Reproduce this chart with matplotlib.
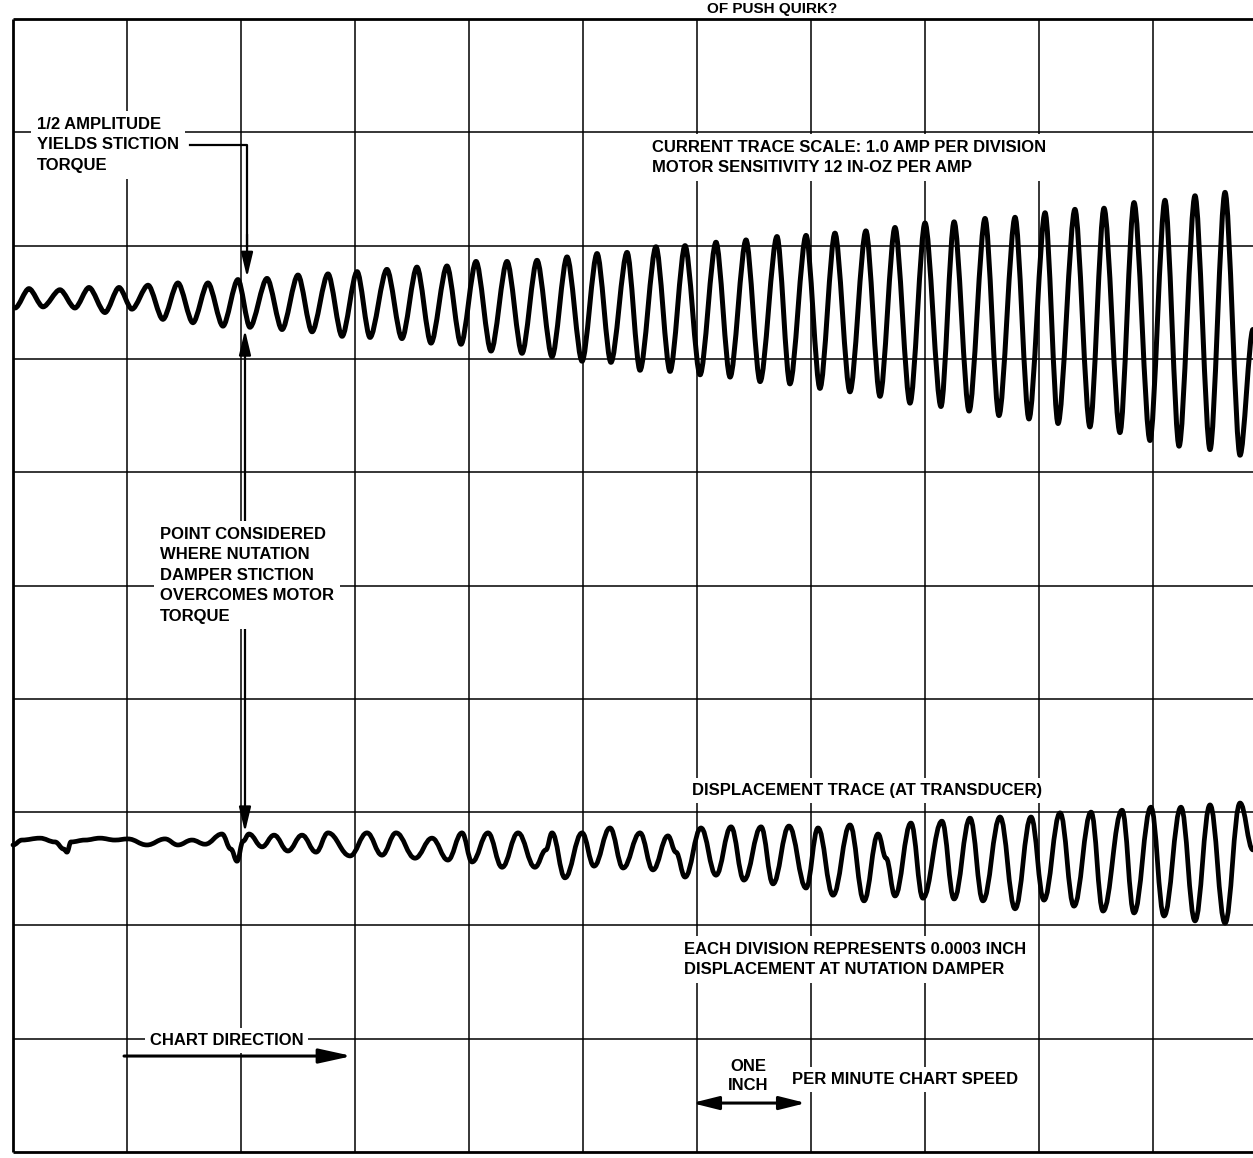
import matplotlib
matplotlib.use("Agg")
import matplotlib.pyplot as plt
from matplotlib.path import Path
from matplotlib.patches import PathPatch

# chart units: one division = one inch of paper = one minute of time
SEC_PER_DIV = 60.0
AMP_PER_DIV = 1.0      # current trace scale
DISP_PER_DIV = 3.0     # displacement in 1e-4 inch (0.0003 in per division)

# current trace, peaks and troughs (s, amp)
current_t = [1.1, 8.4, 15.8, 24.7, 32.6, 40.0, 48.4, 55.8, 62.6, 71.1,
             78.9, 86.8, 94.7, 102.6, 110.5, 118.4, 124.7, 133.7, 141.6, 150.0,
             157.4, 165.8, 173.2, 181.1, 187.9, 196.8, 204.7, 212.6, 220.0, 228.4,
             235.8, 243.7, 251.6, 260.0, 267.9, 275.8, 283.7, 291.6, 299.5, 307.4,
             314.7, 323.2, 330.0, 338.4, 345.8, 353.7, 361.6, 370.0, 377.4, 385.8,
             393.2, 402.1, 408.9, 417.4, 424.7, 432.6, 440.5, 448.9, 456.3, 464.2,
             472.1, 480.0, 488.4, 495.3, 503.2, 511.6, 518.9, 527.4, 534.7, 543.2,
             550.0, 558.9, 566.8, 574.2, 582.6, 590.0, 598.4, 606.3, 613.7, 622.1,
             630.0, 637.9, 645.8, 652.6]
current_amp = [-0.05,
               0.12, -0.04, 0.11, -0.05, 0.13, -0.09, 0.13, -0.06, 0.15, -0.15,
               0.17, -0.18, 0.17, -0.21, 0.20, -0.22, 0.21, -0.24, 0.24, -0.26,
               0.25, -0.30, 0.27, -0.31, 0.29, -0.32, 0.31, -0.36, 0.32, -0.37,
               0.36, -0.43, 0.36, -0.45, 0.37, -0.48, 0.40, -0.52, 0.43, -0.53,
               0.44, -0.60, 0.49, -0.61, 0.50, -0.64, 0.53, -0.66, 0.55, -0.70,
               0.58, -0.72, 0.59, -0.76, 0.61, -0.79, 0.63, -0.83, 0.66, -0.89,
               0.70, -0.92, 0.71, -0.96, 0.74, -1.00, 0.75, -1.03, 0.79, -1.07,
               0.82, -1.10, 0.83, -1.15, 0.88, -1.22, 0.90, -1.27, 0.94, -1.30,
               0.97, -1.35,
               -0.24]

# displacement trace (s, 1e-4 inch)
disp_t = [0.0, 4.7, 14.2, 22.1, 26.8, 28.4, 30.5, 37.9, 45.8, 53.7,
          60.5, 70.5, 80.0, 86.8, 94.2, 101.1, 110.0, 114.7, 117.9, 121.1,
          124.2, 131.1, 137.4, 144.7, 152.1, 159.5, 165.8, 177.4, 186.3, 194.2,
          201.6, 211.6, 220.5, 228.9, 236.3, 241.6, 250.0, 257.4, 265.8, 274.7,
          280.5, 283.7, 290.5, 299.5, 305.8, 314.2, 321.1, 330.0, 336.8, 344.7,
          348.9, 353.7, 362.1, 370.0, 377.9, 384.7, 393.7, 400.0, 408.4, 417.4,
          423.7, 431.6, 440.5, 447.9, 455.3, 459.5, 464.2, 472.6, 478.9, 488.9,
          495.3, 503.7, 510.5, 519.5, 527.4, 535.8, 542.6, 551.1, 558.4, 567.4,
          573.7, 583.7, 590.0, 598.9, 605.8, 614.7, 622.1, 630.0, 637.9, 645.8,
          652.6]
disp_val = [-0.12, 0.01, 0.06, -0.04, -0.23, -0.31, -0.04, 0.01, 0.06, 0.01,
            0.04, -0.12, 0.04, -0.12, 0.01, -0.10, 0.17, -0.23, -0.55, -0.02,
            0.17, -0.17, 0.14, -0.28, 0.14, -0.31, 0.20, -0.41, 0.20, -0.39,
            0.20, -0.47, 0.06, -0.52, 0.20, -0.57, 0.20, -0.71, 0.20, -0.71,
            -0.25, 0.20, -0.99, 0.20, -0.68, 0.33, -0.73, 0.20, -0.78, 0.12,
            -0.31, -0.97, 0.33, -0.92, 0.36, -1.05, 0.36, -1.15, 0.38, -1.26,
            0.33, -1.45, 0.41, -1.60, 0.17, -0.47, -1.47, 0.46, -1.53, 0.51,
            -1.55, 0.59, -1.60, 0.62, -1.81, 0.62, -1.58, 0.73, -1.74, 0.75,
            -1.87, 0.80, -1.92, 0.88, -2.00, 0.88, -2.13, 0.94, -2.19, 0.99,
            -0.25]

assert len(current_t) == len(current_amp)
assert len(disp_t) == len(disp_val)

plt.rcParams["font.family"] = ["Liberation Sans", "DejaVu Sans"]
plt.rcParams["font.weight"] = "bold"

# pen zero lines on the paper (divisions from the bottom edge)
CURRENT_ZERO = 7.5
DISP_ZERO = 2.75


def pen_path(xs, ys, k):
    # smooth pen stroke through the turning points, flat at each extreme
    verts = [(xs[0], ys[0])]
    codes = [Path.MOVETO]
    for i in range(1, len(xs)):
        dx = xs[i] - xs[i - 1]
        verts += [(xs[i - 1] + k * dx, ys[i - 1]), (xs[i] - k * dx, ys[i]), (xs[i], ys[i])]
        codes += [Path.CURVE4] * 3
    return Path(verts, codes)


fig = plt.figure(figsize=(12.53, 11.58), dpi=100)
ax = fig.add_axes([0, 0, 1, 1])
ax.set_xlim(-0.114, 10.877)
ax.set_ylim(-0.053, 10.168)
ax.axis("off")

# chart paper
ax.vlines(range(1, 11), 0, 10, color="black", lw=1.1, zorder=1)
ax.hlines(range(1, 10), 0, 11, color="black", lw=1.1, zorder=1)
ax.vlines([0], 0, 10, color="black", lw=2.0, zorder=1)
ax.hlines([0, 10], 0, 11, color="black", lw=2.0, zorder=1)

# traces
cx = [t / SEC_PER_DIV for t in current_t]
cy = [CURRENT_ZERO + a / AMP_PER_DIV for a in current_amp]
ax.add_patch(PathPatch(pen_path(cx, cy, 0.3), fill=False, lw=3.6, color="black",
                       capstyle="round", joinstyle="round", zorder=5))
dx_ = [t / SEC_PER_DIV for t in disp_t]
dy_ = [DISP_ZERO + d / DISP_PER_DIV for d in disp_val]
ax.add_patch(PathPatch(pen_path(dx_, dy_, 0.4), fill=False, lw=3.4, color="black",
                       capstyle="round", joinstyle="round", zorder=5))

box = dict(boxstyle="square,pad=0.35", fc="white", ec="none")
box_s = dict(boxstyle="square,pad=0.3", fc="white", ec="none")
fs = 12
ls = 1.45

ax.text(0.21, 8.89, "1/2 AMPLITUDE\nYIELDS STICTION\nTORQUE", fontsize=fs,
        ha="left", va="center", linespacing=ls, bbox=box, zorder=3)
ax.text(5.605, 8.78, "CURRENT TRACE SCALE: 1.0 AMP PER DIVISION\n"
        "MOTOR SENSITIVITY 12 IN-OZ PER AMP", fontsize=fs,
        ha="left", va="center", linespacing=ls, bbox=box, zorder=3)
ax.text(1.29, 5.09, "POINT CONSIDERED\nWHERE NUTATION\nDAMPER STICTION\n"
        "OVERCOMES MOTOR\nTORQUE", fontsize=fs,
        ha="left", va="center", linespacing=ls, bbox=box, zorder=3)
ax.text(5.956, 3.19, "DISPLACEMENT TRACE (AT TRANSDUCER)", fontsize=fs,
        ha="left", va="center", bbox=box_s, zorder=3)
ax.text(5.886, 1.70, "EACH DIVISION REPRESENTS 0.0003 INCH\n"
        "DISPLACEMENT AT NUTATION DAMPER", fontsize=fs,
        ha="left", va="center", linespacing=ls, bbox=box, zorder=3)
ax.text(1.20, 0.98, "CHART DIRECTION", fontsize=fs, ha="left", va="center",
        bbox=box_s, zorder=3)
ax.text(6.447, 0.67, "ONE\nINCH", fontsize=fs, ha="center", va="center",
        linespacing=1.3, zorder=3)
ax.text(6.833, 0.644, "PER MINUTE CHART SPEED", fontsize=fs, ha="left", va="center",
        bbox=box_s, zorder=3)

# title at the top edge of the scanned page
ax.text(6.66, 10.055, "OF PUSH QUIRK?", fontsize=11, ha="center", va="baseline",
        zorder=3)

# leader and arrows
ax.plot([1.55, 2.053, 2.053], [8.888, 8.888, 8.0], color="black", lw=1.6, zorder=2)
ax.annotate("", xy=(2.053, 7.72), xytext=(2.053, 8.1),
            arrowprops=dict(arrowstyle="-|>,head_length=0.75,head_width=0.18",
                            mutation_scale=20, lw=1.6, color="black",
                            shrinkA=0, shrinkB=0), zorder=2)
ax.annotate("", xy=(2.035, 7.255), xytext=(2.035, 2.824),
            arrowprops=dict(arrowstyle="<|-|>,head_length=0.75,head_width=0.18",
                            mutation_scale=20, lw=1.6, color="black",
                            shrinkA=0, shrinkB=0), zorder=2)
ax.annotate("", xy=(2.974, 0.847), xytext=(0.974, 0.847),
            arrowprops=dict(arrowstyle="-|>,head_length=1.0,head_width=0.22",
                            mutation_scale=20, lw=2.2, color="black",
                            shrinkA=0, shrinkB=0), zorder=2)
ax.annotate("", xy=(6.956, 0.432), xytext=(5.956, 0.432),
            arrowprops=dict(arrowstyle="<|-|>,head_length=0.8,head_width=0.2",
                            mutation_scale=20, lw=2.2, color="black",
                            shrinkA=0, shrinkB=0), zorder=2)

fig.savefig("out.png", dpi=100, facecolor="white")
